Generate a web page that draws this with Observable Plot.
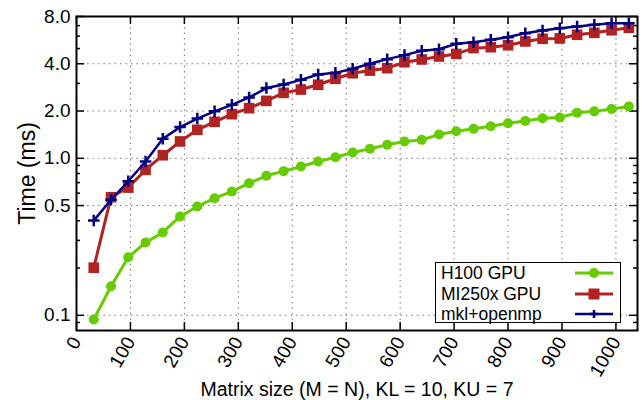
<!DOCTYPE html>
<html><head><meta charset="utf-8">
<script src="https://cdn.jsdelivr.net/npm/d3@7"></script>
<script src="https://cdn.jsdelivr.net/npm/@observablehq/plot@0.6"></script>
<style>
body{margin:0;background:#fff;}
#wrap{position:relative;width:642px;height:400px;font-family:"Liberation Sans",Arial,sans-serif;}
#legend{position:absolute;left:435px;top:262px;width:186px;height:61px;border:1.5px solid #000;background:#fff;box-sizing:border-box;}
.row{position:absolute;left:0;height:20px;width:100%;}
.row span{position:absolute;left:5px;top:0;font-size:17.5px;line-height:20px;color:#000;white-space:nowrap;}
.row svg{position:absolute;left:139px;top:0;}
</style></head><body><div id="wrap"></div>
<script>
const sizes = [32,64,96,128,160,192,224,256,288,320,352,384,416,448,480,512,544,576,608,640,672,704,736,768,800,832,864,896,928,960,992,1024];
const h100 = [0.094,0.153,0.234,0.291,0.337,0.426,0.493,0.557,0.614,0.694,0.774,0.828,0.887,0.954,1.016,1.088,1.149,1.219,1.280,1.310,1.417,1.488,1.54,1.60,1.67,1.73,1.80,1.82,1.95,1.99,2.06,2.14];
const mi250x = [0.201,0.565,0.651,0.844,1.046,1.28,1.518,1.707,1.91,2.085,2.32,2.61,2.74,2.94,3.21,3.48,3.62,3.75,4.09,4.26,4.45,4.62,5.03,5.10,5.25,5.55,5.77,5.80,6.12,6.30,6.54,6.78];
const mkl = [0.401,0.544,0.714,0.954,1.33,1.58,1.79,1.99,2.19,2.44,2.80,2.95,3.16,3.42,3.50,3.72,4.00,4.28,4.54,4.84,4.95,5.36,5.49,5.69,5.91,6.26,6.51,6.74,6.91,7.08,7.25,7.25];
const seriesNames = ["H100 GPU","MI250x GPU","mkl+openmp"];
const seriesColors = ["#66cc00","#b22222","#000080"];
const xTicks = [0,100,200,300,400,500,600,700,800,900,1000];
const xGrid = [100,200,300,400,500,600,700,800,900,1000];
const yMajor = [0.1,0.5,1,2,4,8];
const yMinor = [0.09,0.2,0.3,0.4,0.6,0.7,0.8,0.9,3,5,6,7];
const yGrid = [0.1,0.5,1,2,4];
const xLabel = "Matrix size (M = N), KL = 10, KU = 7";
const yLabel = "Time (ms)";

const values = [h100, mi250x, mkl];
const rows = [];
values.forEach((arr, k) => arr.forEach((v, i) => rows.push({size: sizes[i], time: v, series: seriesNames[k]})));

const W = 642, H = 400, mL = 76, mR = 5, mT = 16, mB = 70;
const innerW = W - mL - mR, innerH = H - mT - mB;
const bySeries = k => ({filter: d => d.series === seriesNames[k], x: "size", y: "time"});
const gridStyle = {stroke: "#777", strokeDasharray: "1.5,4", strokeWidth: 1};

const plot = Plot.plot({
  width: W, height: H,
  marginLeft: mL, marginRight: mR, marginTop: mT, marginBottom: mB,
  style: {fontFamily: '"Liberation Sans", Arial, sans-serif', background: "#fff", color: "#000", overflow: "visible"},
  x: {domain: [0, 1040]},
  y: {type: "log", domain: [0.08, 8]},
  marks: [
    Plot.ruleX(xGrid, gridStyle),
    Plot.ruleY(yGrid, gridStyle),
    Plot.ruleX(xTicks, {insetTop: innerH - 8, strokeWidth: 1.5}),
    Plot.ruleX(xTicks, {insetBottom: innerH - 8, strokeWidth: 1.5}),
    Plot.ruleY(yMajor, {insetRight: innerW - 8, strokeWidth: 1.5}),
    Plot.ruleY(yMajor, {insetLeft: innerW - 8, strokeWidth: 1.5}),
    Plot.ruleY(yMinor, {insetRight: innerW - 4, strokeWidth: 1.5}),
    Plot.ruleY(yMinor, {insetLeft: innerW - 4, strokeWidth: 1.5}),
    Plot.axisX({ticks: xTicks, tickSize: 0, tickRotate: -60, tickPadding: 8, fontSize: 19,
      tickFormat: d3.format("d"),
      label: null}),
    Plot.axisX({ticks: [], tickSize: 0, fontSize: 19.5,
      label: xLabel, labelAnchor: "center", labelOffset: 65, labelArrow: "none"}),
    Plot.text(yMajor, {y: d => d, text: d => d3.format(".1f")(d), frameAnchor: "left",
      textAnchor: "end", dx: -6, fontSize: 19}),
    Plot.axisY({ticks: [], tickSize: 0, fontSize: 23,
      label: yLabel, labelAnchor: "center", labelOffset: 58, labelArrow: "none"}),
    Plot.line(rows, {...bySeries(0), stroke: seriesColors[0], strokeWidth: 3}),
    Plot.dot(rows, {...bySeries(0), fill: seriesColors[0], r: 5, symbol: "circle"}),
    Plot.line(rows, {...bySeries(1), stroke: seriesColors[1], strokeWidth: 3}),
    Plot.dot(rows, {...bySeries(1), fill: seriesColors[1], r: 6, symbol: "square"}),
    Plot.line(rows, {...bySeries(2), stroke: seriesColors[2], strokeWidth: 2.5}),
    Plot.dot(rows, {...bySeries(2), stroke: seriesColors[2], strokeWidth: 2.5, r: 3.8, symbol: "plus"}),
    Plot.frame({stroke: "#000", strokeWidth: 2})
  ]
});
const wrap = document.getElementById("wrap");
wrap.appendChild(plot);

// legend
const legend = document.createElement("div");
legend.id = "legend";
const markerSvg = [
  c => `<circle cx="19" cy="10" r="5" fill="${c}"/>`,
  c => `<rect x="13.5" y="4.5" width="11" height="11" fill="${c}"/>`,
  c => `<path d="M15,10H23M19,6V14" stroke="${c}" stroke-width="2.5" fill="none"/>`
];
seriesNames.forEach((name, k) => {
  const row = document.createElement("div");
  row.className = "row";
  row.style.top = (0 + k * 20.5) + "px";
  row.innerHTML = `<span>${name}</span><svg width="40" height="20"><line x1="0" y1="10" x2="38" y2="10" stroke="${seriesColors[k]}" stroke-width="${k===2?2.5:3}"/>${markerSvg[k](seriesColors[k])}</svg>`;
  legend.appendChild(row);
});
wrap.appendChild(legend);
</script></body></html>
